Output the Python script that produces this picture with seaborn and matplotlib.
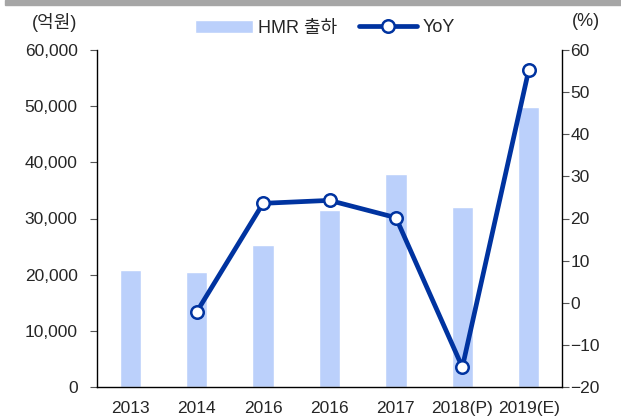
import numpy as np
import pandas as pd
import matplotlib
matplotlib.use("Agg")
import matplotlib.pyplot as plt
import seaborn as sns
from matplotlib.ticker import FuncFormatter, FixedLocator

# ======================
# DATA
# ======================
years = ["2013", "2014", "2016", "2016", "2017", "2018(P)", "2019(E)"]
hmr = [20800, 20400, 25300, 31500, 37900, 32100, 49900]
yoy = [np.nan, -2.2, 23.6, 24.3, 20.2, -15.3, 55.3]

bar_color = "#BBD0FB"
line_color = "#0033A0"

sns.set_style("white")
plt.rcParams['font.family'] = ['Liberation Sans', 'Noto Sans CJK KR', 'DejaVu Sans']
plt.rcParams['font.size'] = 12.5

df = pd.DataFrame({"pos": np.arange(len(years)), "hmr": hmr, "yoy": yoy})

fig = plt.figure(figsize=(6.21, 4.16), dpi=100)
ax = fig.add_axes([97 / 621, 29 / 416, (562 - 97) / 621, (387 - 50) / 416])

# ======================
# BARS
# ======================
sns.barplot(data=df, x="pos", y="hmr", color=bar_color, width=0.32,
            saturation=1, ax=ax, label="HMR 출하")
ax.set_ylim(0, 60000)
ax.set_xlim(-0.5, len(years) - 0.5)
ax.yaxis.set_major_locator(FixedLocator(np.arange(0, 60001, 10000)))
ax.yaxis.set_major_formatter(FuncFormatter(lambda v, p: f"{int(v):,}"))
ax.set_xlabel("")
ax.set_ylabel("")
ax.set_xticks(np.arange(len(years)))
ax.set_xticklabels(years)
ax.set_xticks(np.arange(-0.5, len(years)), minor=True)
ax.tick_params(axis="x", which="major", length=0, pad=10)
ax.tick_params(axis="x", which="minor", length=5, width=0.8, color="#555555", direction="out")
ax.tick_params(axis="y", length=5, width=0.8, color="#555555", direction="out", left=True, pad=9)

# ======================
# LINE
# ======================
ax2 = ax.twinx()
sns.lineplot(data=df.dropna(), x="pos", y="yoy", color=line_color, linewidth=3.4,
             marker="o", markersize=9, markerfacecolor="white",
             markeredgecolor=line_color, markeredgewidth=1.8, ax=ax2, label="YoY")
ax2.set_ylim(-20, 60)
ax2.set_yticks(np.arange(-20, 61, 10))
ax2.set_ylabel("")
ax2.set_xlabel("")
ax2.tick_params(axis="y", length=5, width=0.8, color="#555555", direction="out", right=True, pad=1)

for a in (ax, ax2):
    a.spines["top"].set_visible(False)
    for s in ("left", "right", "bottom"):
        a.spines[s].set_color("black")
        a.spines[s].set_linewidth(1.0)
ax.spines["right"].set_visible(False)
ax2.spines["left"].set_visible(False)
ax2.spines["bottom"].set_visible(False)

# legend
h1, l1 = ax.get_legend_handles_labels()
h2, l2 = ax2.get_legend_handles_labels()
if ax.get_legend():
    ax.get_legend().remove()
if ax2.get_legend():
    ax2.get_legend().remove()
fig.legend(h1 + h2, l1 + l2, loc="center", bbox_to_anchor=(325 / 621, 1 - 28 / 416),
           ncol=2, frameon=False, handlelength=3.2, columnspacing=1.2, handletextpad=0.3,
           fontsize=13)

fig.text(55 / 621, 1 - 22 / 416, "(억원)", ha="center", va="center", fontsize=13)
fig.text(586 / 621, 1 - 22 / 416, "(%)", ha="center", va="center", fontsize=13)

# top gray bar
fig.patches.append(plt.Rectangle((5 / 621, 1 - 5 / 416), 1, 5 / 416,
                                 transform=fig.transFigure, color="#A6A6A6", zorder=0))

fig.savefig("out.png", dpi=100)
